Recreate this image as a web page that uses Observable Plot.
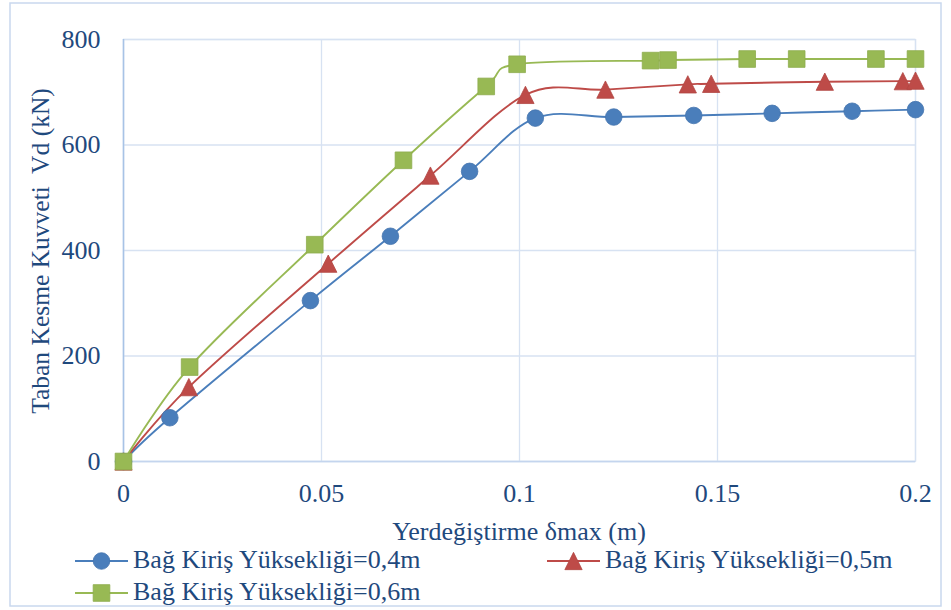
<!DOCTYPE html>
<html>
<head>
<meta charset="utf-8">
<script src="https://cdn.jsdelivr.net/npm/d3@7"></script>
<script src="https://cdn.jsdelivr.net/npm/@observablehq/plot@0.6"></script>
<style>
  html, body { margin: 0; padding: 0; background: #fff; }
  #chart { position: relative; width: 951px; height: 610px; }
</style>
</head>
<body>
<div id="chart"></div>
<script>
// Data
const seriesNames = ["Bağ Kiriş Yüksekliği=0,4m", "Bağ Kiriş Yüksekliği=0,5m", "Bağ Kiriş Yüksekliği=0,6m"];
const x04 = [0, 0.0117, 0.0472, 0.0674, 0.0874, 0.104, 0.1238, 0.144, 0.1638, 0.184, 0.2];
const y04 = [0, 83, 305, 427, 550, 651, 653, 656, 660, 664, 667];
const x05 = [0, 0.0165, 0.0517, 0.0775, 0.1015, 0.1217, 0.1425, 0.1484, 0.1771, 0.1968, 0.2];
const y05 = [0, 141, 375, 542, 695, 705, 715, 716, 720, 721, 722];
const x06 = [0, 0.0167, 0.0483, 0.0707, 0.0916, 0.0994, 0.1331, 0.1375, 0.1575, 0.170, 0.190, 0.2];
const y06 = [0, 179, 411, 571, 711, 753, 760, 761, 763, 763, 763, 763];
const xTicks = [0, 0.05, 0.1, 0.15, 0.2];
const xTickLabels = ["0", "0.05", "0.1", "0.15", "0.2"];
const yTicks = [0, 200, 400, 600, 800];
const xLabel = "Yerdeğiştirme δmax (m)";
const yLabel = "Taban Kesme Kuvveti  Vd (kN)";

const colors = ["#4A7EBB", "#BE4B48", "#98B954"];
const textColor = "#1F497D";
const gridColor = "#D7E2F2";
const font = "Liberation Serif";

// isosceles triangle (width = height), centred on its bounding box
const triangleSym = {
  draw(ctx, size) {
    const w = Math.sqrt(2 * size);
    ctx.moveTo(0, -w / 2);
    ctx.lineTo(w / 2, w / 2);
    ctx.lineTo(-w / 2, w / 2);
    ctx.closePath();
  }
};
const symbols = ["circle", triangleSym, "square"];
const d3symbols = [d3.symbolCircle, triangleSym, d3.symbolSquare];
const radii = [8.3, 6.9, 9.4];

const toRows = (xs, ys) => xs.map((x, i) => ({x, y: ys[i]}));
const sets = [toRows(x04, y04), toRows(x05, y05), toRows(x06, y06)];

const marks = [
  Plot.gridX(xTicks, {stroke: gridColor, strokeOpacity: 1, strokeWidth: 1.3}),
  Plot.gridY(yTicks, {stroke: gridColor, strokeOpacity: 1, strokeWidth: 1.3}),
  Plot.frame({stroke: gridColor, strokeWidth: 1.3}),
  Plot.ruleX([0], {stroke: "#A8C3E6", strokeWidth: 1.5}),
  Plot.ruleY([0], {stroke: "#C4D5EE", strokeWidth: 1.5}),
  Plot.axisX(xTicks, {tickSize: 0, tickPadding: 22, tickFormat: (d, i) => xTickLabels[i], fontSize: 26, fill: textColor, fontFamily: font, label: null}),
  Plot.axisY(yTicks, {tickSize: 0, tickPadding: 23, fontSize: 26, fill: textColor, fontFamily: font, label: null})
];
sets.forEach((rows, i) => {
  marks.push(Plot.line(rows, {x: "x", y: "y", stroke: colors[i], strokeWidth: 1.9, curve: "cardinal"}));
});
sets.forEach((rows, i) => {
  marks.push(Plot.dot(rows, {x: "x", y: "y", symbol: symbols[i], r: radii[i], fill: colors[i], stroke: d3.color(colors[i]).darker(0.2).formatHex(), strokeWidth: 0.8}));
});

const chart = Plot.plot({
  width: 951,
  height: 610,
  marginLeft: 123,
  marginRight: 36,
  marginTop: 39,
  marginBottom: 149,
  style: {background: "#fff", overflow: "visible", fontFamily: font},
  x: {domain: [0, 0.2]},
  y: {domain: [0, 800]},
  marks
});

const svg = d3.select(chart);
// outer chart border
svg.insert("rect", ":first-child")
  .attr("x", 10).attr("y", 3).attr("width", 931).attr("height", 603)
  .attr("fill", "#fff").attr("stroke", "#C9D8EE").attr("stroke-width", 1.5);

// axis titles
svg.append("text").text(xLabel)
  .attr("x", 519).attr("y", 540)
  .attr("text-anchor", "middle").attr("font-size", 26)
  .attr("fill", textColor);
svg.append("text").text(yLabel)
  .attr("transform", "translate(49,251) rotate(-90)")
  .attr("text-anchor", "middle").attr("font-size", 25.5)
  .attr("fill", textColor);

// legend
const legendItems = [
  {i: 0, x: 75, y: 561},
  {i: 1, x: 547, y: 561},
  {i: 2, x: 75, y: 593}
];
legendItems.forEach(({i, x, y}) => {
  const g = svg.append("g");
  g.append("line").attr("x1", x).attr("x2", x + 53).attr("y1", y).attr("y2", y)
    .attr("stroke", colors[i]).attr("stroke-width", 1.9);
  const sym = d3.symbol(d3symbols[i], Math.PI * radii[i] * radii[i]);
  g.append("path").attr("d", sym()).attr("transform", `translate(${x + 26.5},${y})`)
    .attr("fill", colors[i]).attr("stroke", d3.color(colors[i]).darker(0.2).formatHex()).attr("stroke-width", 0.8);
  g.append("text").text(seriesNames[i])
    .attr("x", x + 58).attr("y", y + 7)
    .attr("text-anchor", "start")
    .attr("font-size", 26).attr("fill", textColor);
});

svg.selectAll("text").attr("font-family", font).style("white-space", "pre");

document.getElementById("chart").appendChild(chart);
</script>
</body>
</html>
